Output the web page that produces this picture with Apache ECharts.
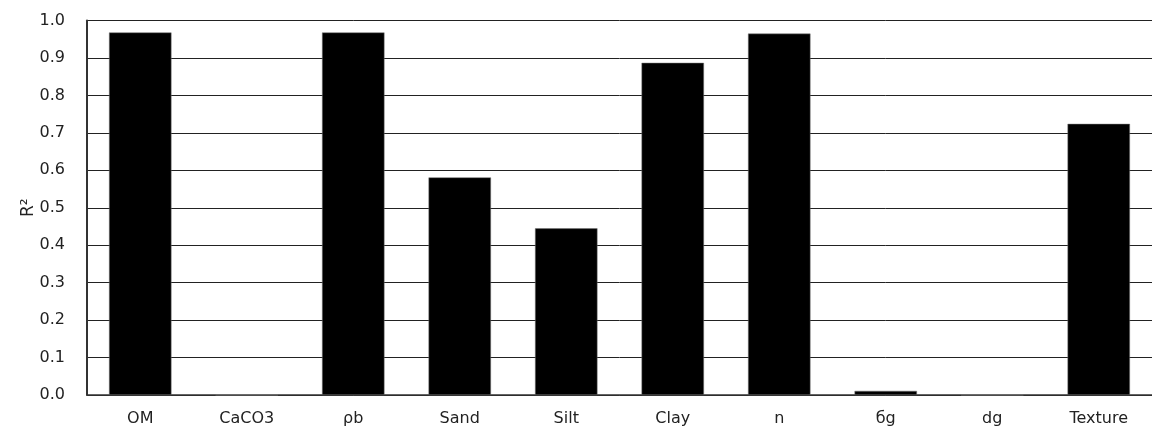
<!DOCTYPE html>
<html><head><meta charset="utf-8">
<script src="https://cdn.jsdelivr.net/npm/echarts@6/dist/echarts.min.js"></script>
<style>html,body{margin:0;padding:0;background:#fff}#c{width:1152px;height:427px}</style>
</head><body><div id="c"></div>
<script>
const categories = ['OM','CaCO3','ρb','Sand','Silt','Clay','n','бg','dg','Texture'];
const r2Values = [0.968, 0, 0.968, 0.581, 0.445, 0.887, 0.965, 0.011, 0, 0.724];
const yTicks = [0,0.1,0.2,0.3,0.4,0.5,0.6,0.7,0.8,0.9,1.0];

const chart = echarts.init(document.getElementById('c'), null, {renderer:'canvas'});
chart.setOption({
  animation:false,
  backgroundColor:'#fff',
  grid:{left:87, top:20.5, width:1075, height:374.5, containLabel:false},
  xAxis:{type:'category', data:categories,
    axisLine:{show:true, lineStyle:{color:'#333', width:1.5}},
    axisTick:{show:false},
    axisLabel:{color:'#222', fontFamily:'DejaVu Sans', fontSize:16, margin:16, interval:0}
  },
  yAxis:{type:'value', min:0, max:1, interval:0.1,
    name:'R²', nameLocation:'middle', nameGap:50, nameRotate:90, nameMoveOverlap:false,
    nameTextStyle:{color:'#222', fontFamily:'DejaVu Sans', fontSize:17},
    axisLine:{show:true, lineStyle:{color:'#333', width:2}},
    axisTick:{show:false},
    axisLabel:{color:'#222', fontFamily:'DejaVu Sans', fontSize:16, margin:22,
      formatter:v=>{const t=yTicks.find(x=>Math.abs(x-v)<1e-9);return (t!==undefined?t:v).toFixed(1);}},
    splitLine:{show:true, lineStyle:{color:'#222', width:1}}
  },
  series:[{type:'bar', data:r2Values, barWidth:'58.6%',
    itemStyle:{color:'#000', borderColor:'#777', borderWidth:0.5}}]
});
</script></body></html>
